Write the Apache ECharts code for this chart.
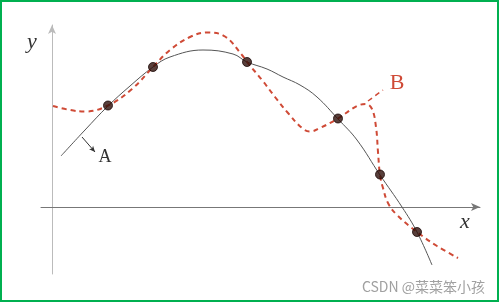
<!DOCTYPE html>
<html><head><meta charset="utf-8">
<script src="https://cdn.jsdelivr.net/npm/echarts@6/dist/echarts.min.js"></script>
<style>html,body{margin:0;padding:0;background:#fff}#c{width:500px;height:303px}</style>
</head><body><div id="c"></div>
<script>
// Data coordinates: origin at the drawn axes' crossing, x right, y up.
const curveAX = [9,33,56,78,101,118,151,181,195,215,231,248,265,286,305,328,350,365,380];
const curveAY = [51,77,101,121,140,150,157,153,145,138,130,122,110,88,67,32,0,-25,-58];
const curveBX = [1,18,33,56,80,101,118,138,155,173,190,195,210,223,236,250,258,268,286,305,314,320,324,326,328,331,336,345,365,385,406];
const curveBY = [101,97,95.5,101.5,118,140,157,170,174.5,170.5,152,145,127,110,94,79,75.5,79,88.5,101,103,98,80,55,32,19,4,-8,-25,-39,-51];
const knotX = [56,101,195,286,328,365];
const knotY = [101.5,140,145,88.5,32.5,-25];
const leaderBX = [316,331];
const leaderBY = [106,117];
const leaderA = [[30,70],[43,55]];
const labels = {x:'x', y:'y', a:'A', b:'B', mark:'CSDN @菜菜笨小孩'};

const zip = (xs, ys) => xs.map((v,i)=>[v, ys[i]]);
const red = '#cf4a36';

const chart = echarts.init(document.getElementById('c'), null, {renderer:'canvas'});
chart.setOption({
  animation:false,
  backgroundColor:'#fff',
  grid:{left:41, right:20, top:25, bottom:29},
  xAxis:{type:'value', min:-11, max:428,
    axisLine:{onZero:true, symbol:['none','arrow'], symbolSize:[6,9], lineStyle:{color:'#777', width:1}},
    axisTick:{show:false}, axisLabel:{show:false}, splitLine:{show:false}},
  yAxis:{type:'value', min:-67, max:182,
    axisLine:{show:true, onZero:true, symbol:['none','arrow'], symbolSize:[6,9], lineStyle:{color:'#bbb', width:1}},
    axisTick:{show:false}, axisLabel:{show:false}, splitLine:{show:false}},
  series:[
    {type:'line', data:zip(curveAX, curveAY), smooth:0.4, showSymbol:false,
      lineStyle:{color:'#555', width:1}, z:2,
      markLine:{silent:true, symbol:['none','arrow'], symbolSize:[4,6], label:{show:false},
        lineStyle:{color:'#333', width:1, type:'solid'},
        data:[[{coord:leaderA[0]},{coord:leaderA[1]}]]}},
    {type:'line', data:zip(curveBX, curveBY), smooth:0.4, showSymbol:false,
      lineStyle:{color:red, width:2, type:[5,4]}, z:3},
    {type:'line', data:zip(leaderBX, leaderBY), showSymbol:false,
      lineStyle:{color:red, width:1.5, type:[5,4]}, z:3},
    {type:'scatter', data:zip(knotX, knotY), symbolSize:9,
      itemStyle:{color:'#2e0f0a', borderColor:'#1a0806', borderWidth:1}, z:5}
  ],
  graphic:[
    {type:'rect', shape:{x:1, y:1, width:497, height:300}, style:{fill:'none', stroke:'#00b050', lineWidth:2}, silent:true},
    {type:'text', x:32, y:42, style:{text:labels.y, font:'italic 22px "Liberation Serif", serif', fill:'#333', align:'center', verticalAlign:'middle'}},
    {type:'text', x:465, y:222, style:{text:labels.x, font:'italic 22px "Liberation Serif", serif', fill:'#333', align:'center', verticalAlign:'middle'}},
    {type:'text', x:105, y:157, style:{text:labels.a, font:'18px "Liberation Serif", serif', fill:'#333', align:'center', verticalAlign:'middle'}},
    {type:'text', x:397, y:83, style:{text:labels.b, font:'22px "Liberation Serif", serif', fill:red, align:'center', verticalAlign:'middle'}},
    {type:'text', x:485, y:287, style:{text:labels.mark, font:'14px "Noto Sans CJK SC"', fill:'#a0a0a0', align:'right', verticalAlign:'middle'}}
  ]
});
</script></body></html>
